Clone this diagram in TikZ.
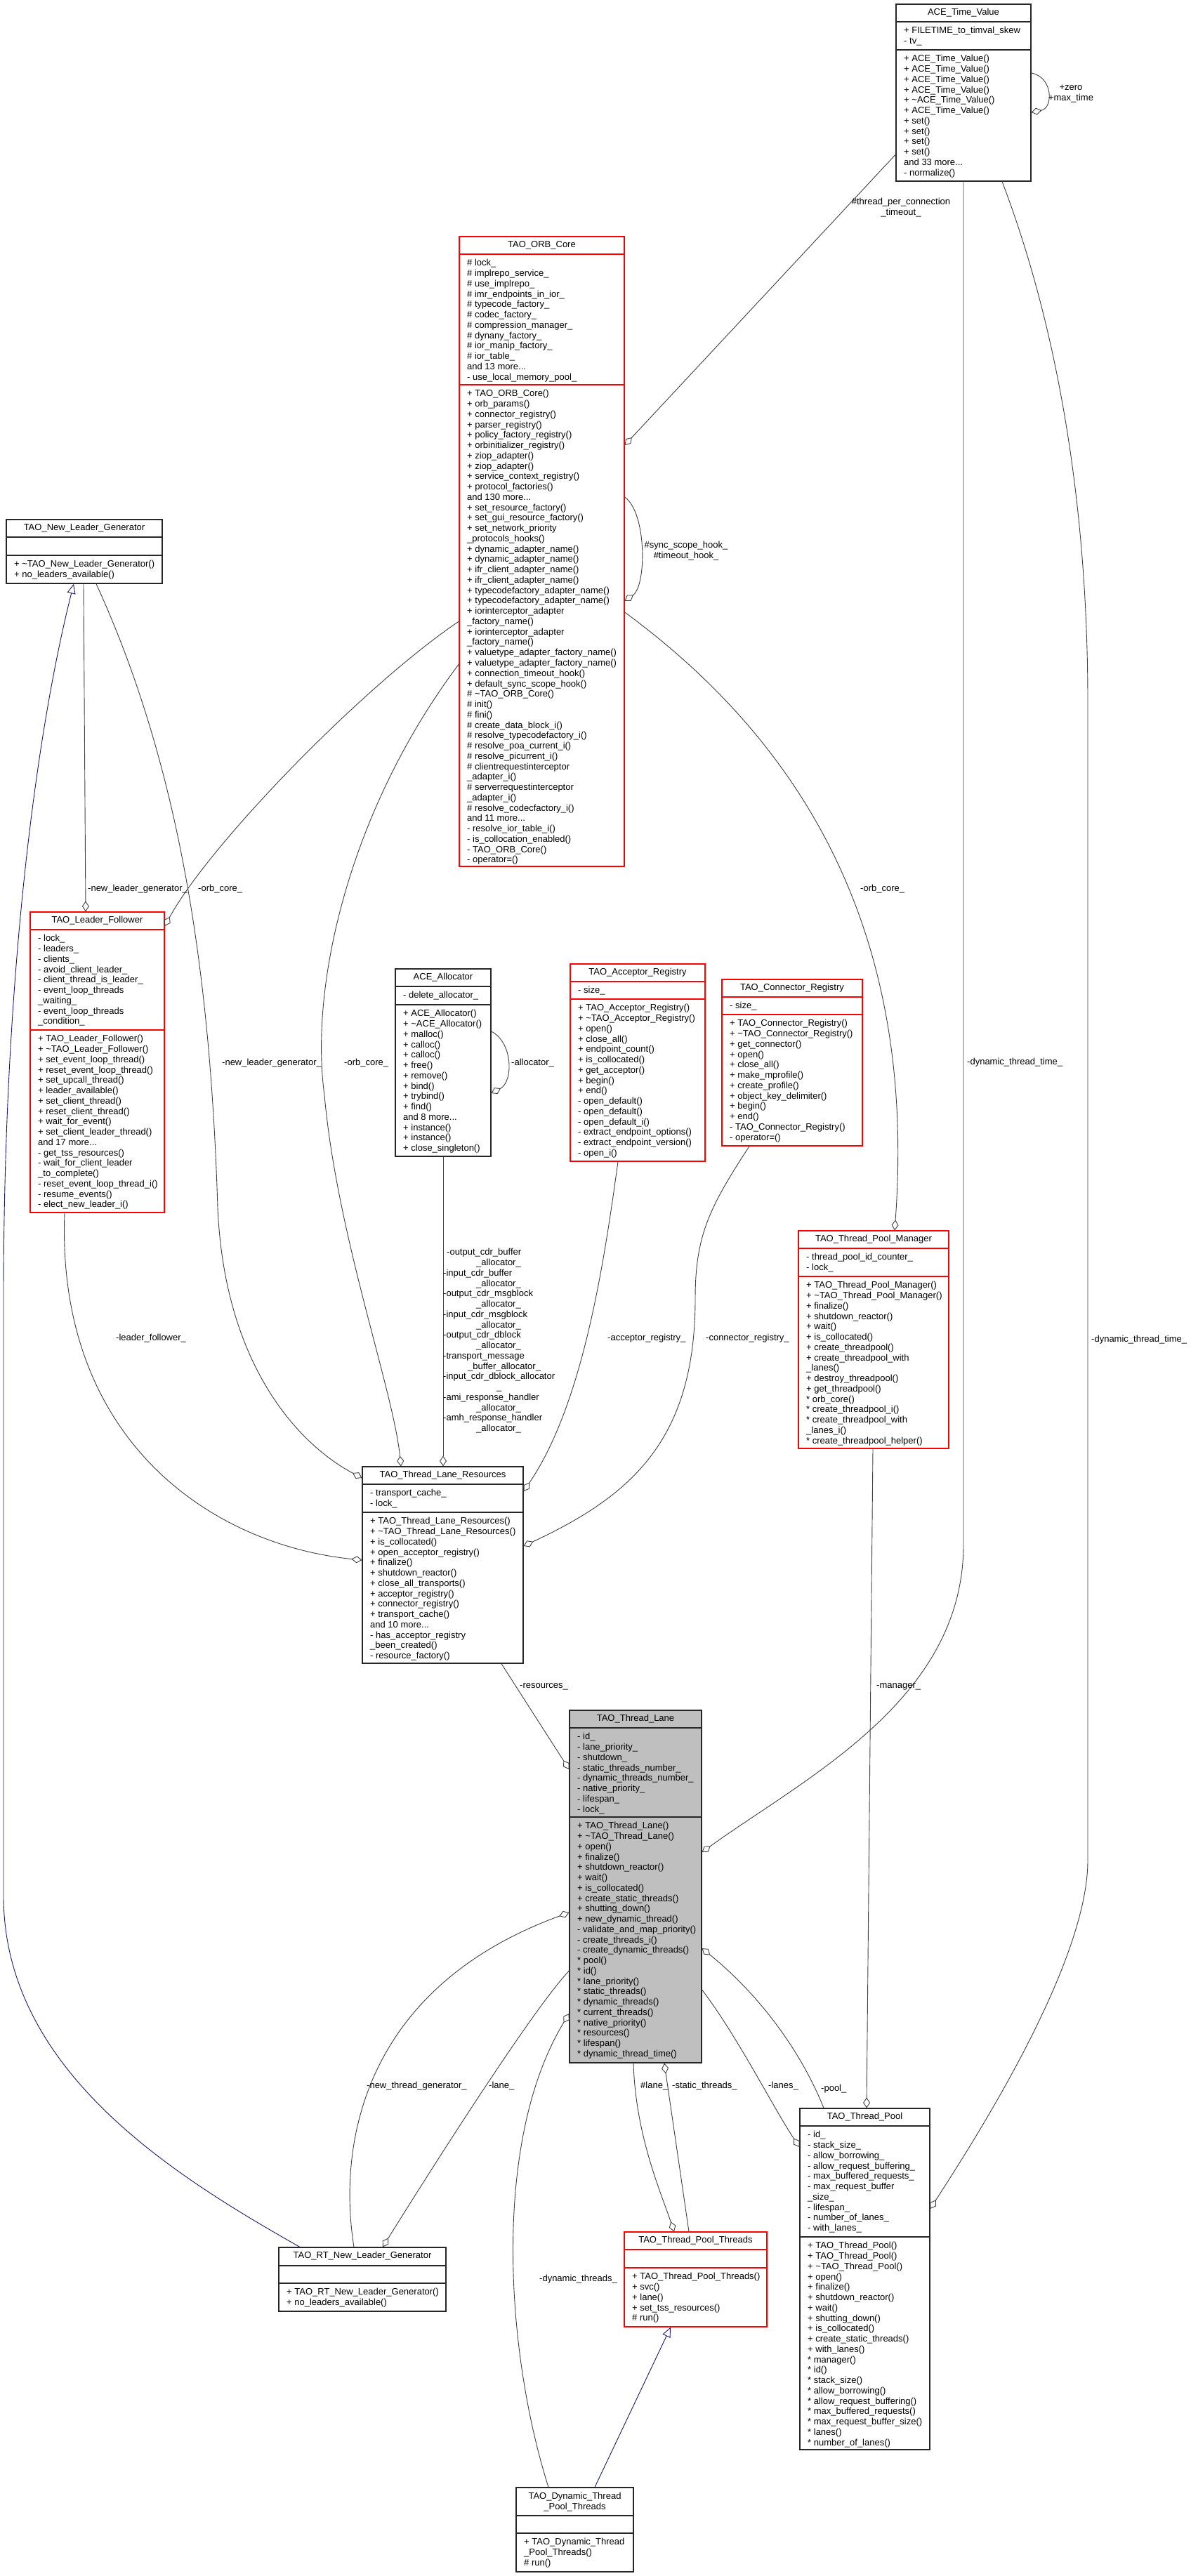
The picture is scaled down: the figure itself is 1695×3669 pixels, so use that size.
\documentclass[tikz,border=0pt]{standalone}
\usepackage{fontspec}
\setmainfont{Liberation Sans}
\usetikzlibrary{arrows.meta,fit}
\definecolor{midnight}{RGB}{25,25,112}
\definecolor{lanegray}{RGB}{191,191,191}
\definecolor{edgegray}{RGB}{64,64,64}
\newcommand{\tld}{\textasciitilde}
\tikzset{
  cls/.style={draw=black!85, line width=1.2pt, inner sep=0pt, fill=white},
  redcls/.style={cls, draw=red},
  graycls/.style={cls, fill=lanegray},
  txt/.style={inner sep=0pt, anchor=north west, align=left, font=\fontsize{13}{14.76}\selectfont},
  ttl/.style={inner sep=0pt, anchor=base, font=\fontsize{13}{14.76}\selectfont},
  lbl/.style={inner sep=0pt, anchor=base west, font=\fontsize{13}{14.76}\selectfont},
  mlbl/.style={inner sep=0pt, anchor=north, align=center, font=\fontsize{13}{14.76}\selectfont},
  assoc/.style={draw=edgegray, line width=0.9pt, -{Diamond[open, length=15pt, width=10pt, line width=0.9pt]}},
  inh/.style={draw=midnight, line width=0.9pt, -{Triangle[open, length=14pt, width=12pt, line width=0.9pt]}},
}
\newcommand{\umlbox}[9]{%
  \node[#2, fit={(#3,#5) (#4,#8)}] (#1) {};
  \draw[#2] (#3,#6) -- (#4,#6);
  \draw[#2] (#3,#7) -- (#4,#7);
  \node[ttl] (#1-t) at ([yshift=-16.5pt]#1.north) {#9};
}
\newcommand{\umltxt}[4]{\node[txt] (#1) at ({#2+11},{#3+6.2}) {\strut #4};}
\catcode`\_=12
\begin{document}
\begin{tikzpicture}[x=1pt,y=-1pt]
\fill[white] (0,0) rectangle (1695,3669);
\useasboundingbox (0,0) rectangle (1695,3669);

% ---------------- classes ----------------
\umlbox{tv}{cls}{1276}{1468}{6}{31}{71}{258}{ACE_Time_Value}
\umltxt{tv-a}{1276}{31}{+ FILETIME_to_timval_skew\\- tv_}
\umltxt{tv-m}{1276}{71}{+ ACE_Time_Value()\\+ ACE_Time_Value()\\+ ACE_Time_Value()\\+ ACE_Time_Value()\\+ \tld{}ACE_Time_Value()\\+ ACE_Time_Value()\\+ set()\\+ set()\\+ set()\\+ set()\\and 33 more...\\- normalize()}

\umlbox{orb}{redcls}{654}{889}{337}{362}{548}{1234}{TAO_ORB_Core}
\umltxt{orb-a}{654}{362}{\# lock_\\\# implrepo_service_\\\# use_implrepo_\\\# imr_endpoints_in_ior_\\\# typecode_factory_\\\# codec_factory_\\\# compression_manager_\\\# dynany_factory_\\\# ior_manip_factory_\\\# ior_table_\\and 13 more...\\- use_local_memory_pool_}
\umltxt{orb-m}{654}{548}{+ TAO_ORB_Core()\\+ orb_params()\\+ connector_registry()\\+ parser_registry()\\+ policy_factory_registry()\\+ orbinitializer_registry()\\+ ziop_adapter()\\+ ziop_adapter()\\+ service_context_registry()\\+ protocol_factories()\\and 130 more...\\+ set_resource_factory()\\+ set_gui_resource_factory()\\+ set_network_priority\\_protocols_hooks()\\+ dynamic_adapter_name()\\+ dynamic_adapter_name()\\+ ifr_client_adapter_name()\\+ ifr_client_adapter_name()\\+ typecodefactory_adapter_name()\\+ typecodefactory_adapter_name()\\+ iorinterceptor_adapter\\_factory_name()\\+ iorinterceptor_adapter\\_factory_name()\\+ valuetype_adapter_factory_name()\\+ valuetype_adapter_factory_name()\\+ connection_timeout_hook()\\+ default_sync_scope_hook()\\\# \tld{}TAO_ORB_Core()\\\# init()\\\# fini()\\\# create_data_block_i()\\\# resolve_typecodefactory_i()\\\# resolve_poa_current_i()\\\# resolve_picurrent_i()\\\# clientrequestinterceptor\\_adapter_i()\\\# serverrequestinterceptor\\_adapter_i()\\\# resolve_codecfactory_i()\\and 11 more...\\- resolve_ior_table_i()\\- is_collocation_enabled()\\- TAO_ORB_Core()\\- operator=()}

\umlbox{nlg}{cls}{9}{231}{740}{765}{791}{831}{TAO_New_Leader_Generator}
\umltxt{nlg-m}{9}{791}{+ \tld{}TAO_New_Leader_Generator()\\+ no_leaders_available()}

\umlbox{lf}{redcls}{43}{234}{1299}{1324}{1467}{1727}{TAO_Leader_Follower}
\umltxt{lf-a}{43}{1324}{- lock_\\- leaders_\\- clients_\\- avoid_client_leader_\\- client_thread_is_leader_\\- event_loop_threads\\_waiting_\\- event_loop_threads\\_condition_}
\umltxt{lf-m}{43}{1467}{+ TAO_Leader_Follower()\\+ \tld{}TAO_Leader_Follower()\\+ set_event_loop_thread()\\+ reset_event_loop_thread()\\+ set_upcall_thread()\\+ leader_available()\\+ set_client_thread()\\+ reset_client_thread()\\+ wait_for_event()\\+ set_client_leader_thread()\\and 17 more...\\- get_tss_resources()\\- wait_for_client_leader\\_to_complete()\\- reset_event_loop_thread_i()\\- resume_events()\\- elect_new_leader_i()}

\umlbox{alloc}{cls}{563}{699}{1380}{1405}{1431}{1647}{ACE_Allocator}
\umltxt{alloc-a}{563}{1405}{- delete_allocator_}
\umltxt{alloc-m}{563}{1431}{+ ACE_Allocator()\\+ \tld{}ACE_Allocator()\\+ malloc()\\+ calloc()\\+ calloc()\\+ free()\\+ remove()\\+ bind()\\+ trybind()\\+ find()\\and 8 more...\\+ instance()\\+ instance()\\+ close_singleton()}

\umlbox{acc}{redcls}{812}{1004}{1373}{1398}{1423}{1654}{TAO_Acceptor_Registry}
\umltxt{acc-a}{812}{1398}{- size_}
\umltxt{acc-m}{812}{1423}{+ TAO_Acceptor_Registry()\\+ \tld{}TAO_Acceptor_Registry()\\+ open()\\+ close_all()\\+ endpoint_count()\\+ is_collocated()\\+ get_acceptor()\\+ begin()\\+ end()\\- open_default()\\- open_default()\\- open_default_i()\\- extract_endpoint_options()\\- extract_endpoint_version()\\- open_i()}

\umlbox{con}{redcls}{1028}{1228}{1395}{1420}{1445}{1632}{TAO_Connector_Registry}
\umltxt{con-a}{1028}{1420}{- size_}
\umltxt{con-m}{1028}{1445}{+ TAO_Connector_Registry()\\+ \tld{}TAO_Connector_Registry()\\+ get_connector()\\+ open()\\+ close_all()\\+ make_mprofile()\\+ create_profile()\\+ object_key_delimiter()\\+ begin()\\+ end()\\- TAO_Connector_Registry()\\- operator=()}

\umlbox{tpm}{redcls}{1137}{1351}{1753}{1778}{1818}{2063}{TAO_Thread_Pool_Manager}
\umltxt{tpm-a}{1137}{1778}{- thread_pool_id_counter_\\- lock_}
\umltxt{tpm-m}{1137}{1818}{+ TAO_Thread_Pool_Manager()\\+ \tld{}TAO_Thread_Pool_Manager()\\+ finalize()\\+ shutdown_reactor()\\+ wait()\\+ is_collocated()\\+ create_threadpool()\\+ create_threadpool_with\\_lanes()\\+ destroy_threadpool()\\+ get_threadpool()\\* orb_core()\\* create_threadpool_i()\\* create_threadpool_with\\_lanes_i()\\* create_threadpool_helper()}

\umlbox{tlr}{cls}{516}{745}{2089}{2114}{2154}{2369}{TAO_Thread_Lane_Resources}
\umltxt{tlr-a}{516}{2114}{- transport_cache_\\- lock_}
\umltxt{tlr-m}{516}{2154}{+ TAO_Thread_Lane_Resources()\\+ \tld{}TAO_Thread_Lane_Resources()\\+ is_collocated()\\+ open_acceptor_registry()\\+ finalize()\\+ shutdown_reactor()\\+ close_all_transports()\\+ acceptor_registry()\\+ connector_registry()\\+ transport_cache()\\and 10 more...\\- has_acceptor_registry\\_been_created()\\- resource_factory()}

\umlbox{tl}{graycls}{811}{999}{2436}{2461}{2588}{2938}{TAO_Thread_Lane}
\umltxt{tl-a}{811}{2461}{- id_\\- lane_priority_\\- shutdown_\\- static_threads_number_\\- dynamic_threads_number_\\- native_priority_\\- lifespan_\\- lock_}
\umltxt{tl-m}{811}{2588}{+ TAO_Thread_Lane()\\+ \tld{}TAO_Thread_Lane()\\+ open()\\+ finalize()\\+ shutdown_reactor()\\+ wait()\\+ is_collocated()\\+ create_static_threads()\\+ shutting_down()\\+ new_dynamic_thread()\\- validate_and_map_priority()\\- create_threads_i()\\- create_dynamic_threads()\\* pool()\\* id()\\* lane_priority()\\* static_threads()\\* dynamic_threads()\\* current_threads()\\* native_priority()\\* resources()\\* lifespan()\\* dynamic_thread_time()}

\umlbox{tp}{cls}{1139}{1324}{3003}{3028}{3186}{3489}{TAO_Thread_Pool}
\umltxt{tp-a}{1139}{3028}{- id_\\- stack_size_\\- allow_borrowing_\\- allow_request_buffering_\\- max_buffered_requests_\\- max_request_buffer\\_size_\\- lifespan_\\- number_of_lanes_\\- with_lanes_}
\umltxt{tp-m}{1139}{3186}{+ TAO_Thread_Pool()\\+ TAO_Thread_Pool()\\+ \tld{}TAO_Thread_Pool()\\+ open()\\+ finalize()\\+ shutdown_reactor()\\+ wait()\\+ shutting_down()\\+ is_collocated()\\+ create_static_threads()\\+ with_lanes()\\* manager()\\* id()\\* stack_size()\\* allow_borrowing()\\* allow_request_buffering()\\* max_buffered_requests()\\* max_request_buffer_size()\\* lanes()\\* number_of_lanes()}

\umlbox{rt}{cls}{397}{635}{3201}{3227}{3252}{3292}{TAO_RT_New_Leader_Generator}
\umltxt{rt-m}{397}{3252}{+ TAO_RT_New_Leader_Generator()\\+ no_leaders_available()}

\umlbox{tpt}{redcls}{889}{1092}{3179}{3204}{3230}{3314}{TAO_Thread_Pool_Threads}
\umltxt{tpt-m}{889}{3230}{+ TAO_Thread_Pool_Threads()\\+ svc()\\+ lane()\\+ set_tss_resources()\\\# run()}

\umlbox{dyn}{cls}{735}{902}{3543}{3583}{3608}{3663}{}
\node[mlbl] (dyn-t2) at (818.5,3548.7) {\strut TAO_Dynamic_Thread\\_Pool_Threads};
\umltxt{dyn-m}{735}{3608}{+ TAO_Dynamic_Thread\\_Pool_Threads()\\\# run()}

% ---------------- connectors ----------------
\draw[assoc] (tv.east |- 0,104) .. controls (1500,110) and (1500,154) .. (tv.east |- 0,160);
\draw[assoc] (tv.west |- 0,220) -- (orb.east |- 0,634);
\draw[assoc] (orb.east |- 0,708) .. controls (921,730) and (921,834) .. (orb.east |- 0,856);
\draw[assoc] (orb.east |- 0,872) .. controls (1200,1100) and (1300,1400) .. (tpm.north -| 1274,0);
\draw[assoc] (nlg.south -| 119,0) -- (lf.north -| 122,0);
\draw[assoc] (orb.west |- 0,885) .. controls (520,975) and (300,1200) .. (lf.east |- 0,1319);
\draw[inh] (rt.north -| 427,0) .. controls (250,3100) and (5,2950) .. (5,2700) -- (5,1850) .. controls (5,1400) and (50,1050) .. (nlg.south -| 105,0);
\draw[assoc] (nlg.south -| 137,0) .. controls (260,1100) and (300,1400) .. (310,1720) .. controls (320,1950) and (430,2060) .. (tlr.west |- 0,2105);
\draw[assoc] (orb.west |- 0,946) .. controls (500,1150) and (440,1400) .. (462,1560) .. controls (480,1760) and (560,1980) .. (tlr.north -| 571,0);
\draw[assoc] (alloc.south -| 631,0) -- (tlr.north -| 631,0);
\draw[assoc] (alloc.east |- 0,1469) .. controls (731,1485) and (731,1541) .. (alloc.east |- 0,1557);
\draw[assoc] (acc.south -| 880,0) .. controls (860,1800) and (830,2000) .. (tlr.east |- 0,2124);
\draw[assoc] (con.south -| 1067,0) .. controls (1010,1720) and (990,1760) .. (990,1850) .. controls (990,2050) and (900,2130) .. (tlr.east |- 0,2202);
\draw[assoc] (lf.south -| 92,0) .. controls (80,2050) and (300,2200) .. (tlr.west |- 0,2222);
\draw[assoc] (tv.south -| 1372,0) -- (1372,2200) .. controls (1372,2420) and (1150,2530) .. (tl.east |- 0,2638);
\draw[assoc] (tv.south -| 1427,0) .. controls (1500,450) and (1549,700) .. (1549,1000) -- (1549,2650) .. controls (1549,2800) and (1380,3060) .. (tp.east |- 0,3146);
\draw[assoc] (tlr.south -| 714,0) -- (tl.west |- 0,2520);
\draw[assoc] (tpm.south -| 1243,0) -- (tp.north -| 1234,0);
\draw[assoc] (rt.north -| 504,0) .. controls (480,3050) and (520,2830) .. (tl.west |- 0,2724);
\draw[assoc] (tl.west |- 0,2807) .. controls (760,2860) and (620,3080) .. (rt.north -| 545,0);
\draw[assoc] (dyn.north -| 781,0) .. controls (720,3350) and (700,3050) .. (tl.west |- 0,2868);
\draw[assoc] (tpt.north -| 981,0) -- (tl.south -| 946,0);
\draw[assoc] (tl.south -| 902,0) .. controls (905,3040) and (940,3120) .. (tpt.north -| 960,0);
\draw[assoc] (tl.east |- 0,2834) .. controls (1050,2900) and (1100,3000) .. (tp.west |- 0,3058);
\draw[assoc] (tp.north -| 1173,0) .. controls (1140,2920) and (1080,2840) .. (tl.east |- 0,2775);
\draw[inh] (dyn.north -| 847,0) -- (tpt.south -| 955,0);

% ---------------- labels ----------------
\node[mlbl] (l-zero) at (1525,118.2) {\strut +zero\\+max_time};
\node[mlbl] (l-tpc) at (1283,281.2) {\strut \#thread_per_connection\\_timeout_};
\node[mlbl] (l-sync) at (977,770.2) {\strut \#sync_scope_hook_\\\#timeout_hook_};
\node[lbl] (l-nlg1) at (125,1269.5) {-new_leader_generator_};
\node[lbl] (l-orb1) at (282,1269.5) {-orb_core_};
\node[lbl] (l-orb3) at (1225,1269.5) {-orb_core_};
\node[lbl] (l-nlg2) at (316,1517.5) {-new_leader_generator_};
\node[lbl] (l-orb2) at (490,1517.5) {-orb_core_};
\node[lbl] (l-alloc) at (728,1517.5) {-allocator_};
\node[lbl] (l-dtt1) at (1377,1516.5) {-dynamic_thread_time_};
\node[txt] (l-allocs) at (631,1777.2) {\strut \hspace*{5pt}-output_cdr_buffer\\\hspace*{47pt}_allocator_\\-input_cdr_buffer\\\hspace*{47pt}_allocator_\\-output_cdr_msgblock\\\hspace*{47pt}_allocator_\\-input_cdr_msgblock\\\hspace*{47pt}_allocator_\\-output_cdr_dblock\\\hspace*{47pt}_allocator_\\-transport_message\\\hspace*{35pt}_buffer_allocator_\\-input_cdr_dblock_allocator\\\hspace*{76pt}_\\-ami_response_handler\\\hspace*{47pt}_allocator_\\-amh_response_handler\\\hspace*{47pt}_allocator_};
\node[lbl] (l-lf) at (165,1909.5) {-leader_follower_};
\node[lbl] (l-acc) at (865,1909.5) {-acceptor_registry_};
\node[lbl] (l-con) at (1005,1909.5) {-connector_registry_};
\node[lbl] (l-dtt2) at (1554,1911.5) {-dynamic_thread_time_};
\node[lbl] (l-res) at (740,2404.5) {-resources_};
\node[lbl] (l-man) at (1248,2404.5) {-manager_};
\node[lbl] (l-ntg) at (522,2974.5) {-new_thread_generator_};
\node[lbl] (l-lane) at (696,2974.5) {-lane_};
\node[lbl] (l-hlane) at (912,2974.5) {\#lane_};
\node[lbl] (l-st) at (957,2974.5) {-static_threads_};
\node[lbl] (l-lanes) at (1094,2974.5) {-lanes_};
\node[lbl] (l-pool) at (1169,2978) {-pool_};
\node[lbl] (l-dt) at (768,3249.5) {-dynamic_threads_};
\end{tikzpicture}
\end{document}
